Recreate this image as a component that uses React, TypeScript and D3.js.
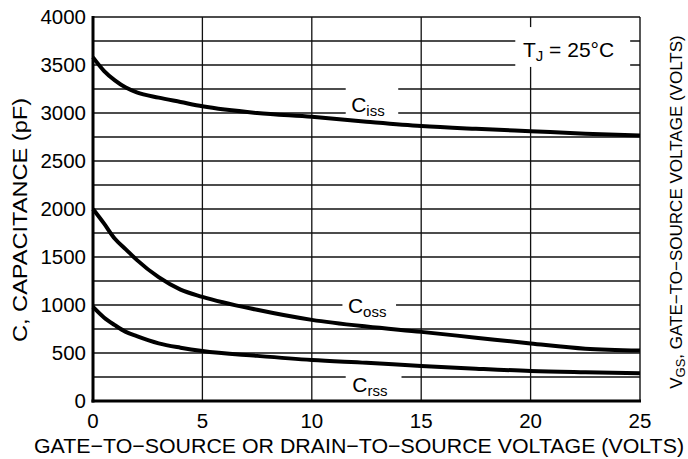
import React from 'react';
import * as d3 from 'd3';

// drain/gate-to-source voltage (V)
const voltage = [0, 0.5, 1, 1.5, 2, 3, 4, 5, 7.5, 10, 12.5, 15, 17.5, 20, 22.5, 25];
// capacitance (pF)
const ciss = [3580, 3440, 3340, 3265, 3215, 3160, 3115, 3070, 3000, 2960, 2910, 2865, 2835, 2810, 2785, 2765];
const coss = [2000, 1850, 1690, 1580, 1470, 1290, 1160, 1085, 950, 845, 775, 720, 660, 600, 545, 525];
const crss = [980, 870, 790, 720, 675, 600, 555, 520, 470, 427, 398, 365, 337, 313, 300, 290];

const xTicks = [0, 5, 10, 15, 20, 25];
const yTicks = [0, 500, 1000, 1500, 2000, 2500, 3000, 3500, 4000];
const yGrid = d3.range(250, 4000, 250);

const W = 688;
const H = 459;
const margin = { top: 17, right: 48, bottom: 58, left: 93 };
const font = '"Liberation Sans", Arial, Helvetica, sans-serif';

export default function App() {
    const x = d3.scaleLinear().domain([0, 25]).range([margin.left, W - margin.right]);
    const y = d3.scaleLinear().domain([0, 4000]).range([H - margin.bottom, margin.top]);

    const line = (vals: number[]) =>
        d3.line<number>()
            .x((d, i) => x(voltage[i]))
            .y((d) => y(d))
            .curve(d3.curveMonotoneX)(vals) || '';

    // white boxes that break the grid behind the labels
    const boxes = [
        { x0: 11.55, x1: 13.95, y0: 2940, y1: 3310 },
        { x0: 11.4, x1: 13.85, y0: 900, y1: 1100 },
        { x0: 11.55, x1: 14.1, y0: 100, y1: 330 },
        { x0: 19.3, x1: 24.55, y0: 3480, y1: 3895 },
    ];

    const x0 = x(0), x1 = x(25), y0 = y(0), y1 = y(4000);

    return (
        <svg width={W} height={H} style={{ position: 'absolute', left: 0, top: 0, background: '#fff' }}
            fontFamily={font}>
            {/* grid */}
            {yGrid.map((v) => (
                <line key={'h' + v} x1={x0} x2={x1} y1={y(v)} y2={y(v)} stroke="#111" strokeWidth={1.3} />
            ))}
            {xTicks.slice(1, -1).map((v) => (
                <line key={'v' + v} x1={x(v)} x2={x(v)} y1={y0} y2={y1} stroke="#111" strokeWidth={1.3} />
            ))}
            {boxes.map((b, i) => (
                <rect key={'b' + i} x={x(b.x0)} y={y(b.y1)} width={x(b.x1) - x(b.x0)} height={y(b.y0) - y(b.y1)} fill="#fff" />
            ))}
            {/* frame */}
            <line x1={x0} x2={x1} y1={y1} y2={y1} stroke="#111" strokeWidth={1.4} />
            <line x1={x1} x2={x1} y1={y1} y2={y0} stroke="#111" strokeWidth={1.4} />

            {/* curves */}
            {[ciss, coss, crss].map((s, i) => (
                <path key={'c' + i} d={line(s)} fill="none" stroke="#000" strokeWidth={4} strokeLinejoin="round" />
            ))}

            <line x1={x0} x2={x0} y1={y1 - 1} y2={y0 + 1.5} stroke="#000" strokeWidth={3} />
            <line x1={x0 - 1.5} x2={x1 + 1} y1={y0} y2={y0} stroke="#000" strokeWidth={3} />

            {/* ticks */}
            {yTicks.map((v) => (
                <text key={'yt' + v} x={x0 - 7} y={y(v)} dy="0.36em" textAnchor="end" fontSize={20.5}>{v}</text>
            ))}
            {xTicks.map((v) => (
                <text key={'xt' + v} x={x(v)} y={y0 + 27} textAnchor="middle" fontSize={20.5}>{v}</text>
            ))}

            {/* axis titles */}
            <text x={359} y={453} textAnchor="middle" fontSize={20.5} textLength={650} lengthAdjust="spacingAndGlyphs">GATE−TO−SOURCE OR DRAIN−TO−SOURCE VOLTAGE (VOLTS)</text>
            <text transform={`translate(27,${(y0 + y1) / 2 + 11}) rotate(-90)`} textAnchor="middle" fontSize={20.5} textLength={244} lengthAdjust="spacingAndGlyphs">C, CAPACITANCE (pF)</text>
            <text transform={`translate(682,${(y0 + y1) / 2 + 3}) rotate(-90)`} textAnchor="middle" fontSize={17}>
                V<tspan fontSize={13} dy={3}>GS</tspan><tspan dy={-3}>, GATE−TO−SOURCE VOLTAGE (VOLTS)</tspan>
            </text>

            {/* curve labels */}
            <text x={x(11.8)} y={y(3000) - 1} fontSize={21}>C<tspan fontSize={15} dy={4}>iss</tspan></text>
            <text x={x(11.65)} y={y(1000) + 8} fontSize={21}>C<tspan fontSize={15} dy={4}>oss</tspan></text>
            <text x={x(11.85)} y={y(250) + 15} fontSize={21}>C<tspan fontSize={15} dy={4}>rss</tspan></text>
            <text x={x(19.65)} y={57} fontSize={21}>T<tspan fontSize={15} dy={4}>J</tspan><tspan dy={-4}> = 25°C</tspan></text>
        </svg>
    );
}
